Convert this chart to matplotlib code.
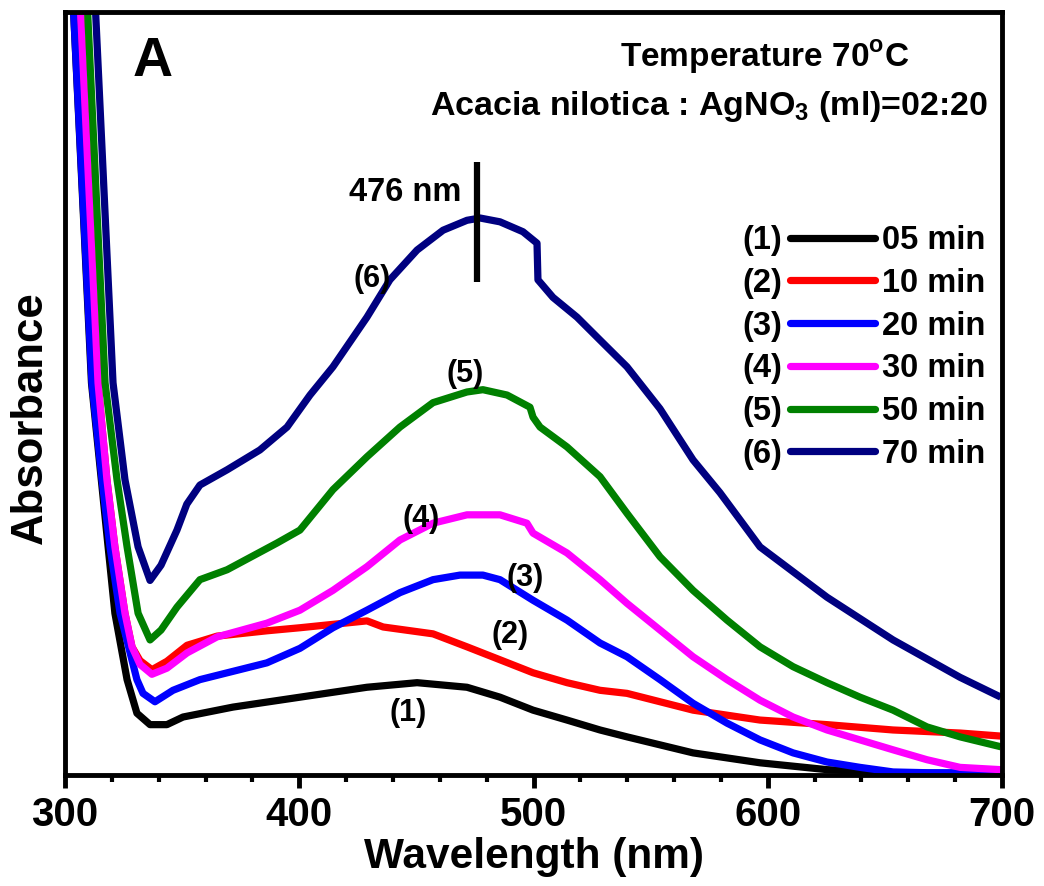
import numpy as np
import matplotlib
matplotlib.use("Agg")
import matplotlib.pyplot as plt
from matplotlib.lines import Line2D
from matplotlib.ticker import MultipleLocator

# UV-vis spectra (absorbance in arbitrary units, 0..1 = axis height)
wl1 = [303.2, 311.3, 315.5, 318.4, 321.3, 326.5, 330.7, 336.3, 343.5, 350.4, 371.7, 400.3, 428.9,
       450.3, 471.6, 485.7, 499.8, 514.3, 528.4, 539.9, 568.1, 596.7, 625.3, 653.5, 699.5]
a1 = [1.03, 0.514, 0.387, 0.299, 0.212, 0.125, 0.081, 0.066, 0.066, 0.076, 0.089, 0.102, 0.115,
      0.121, 0.115, 0.102, 0.085, 0.072, 0.059, 0.050, 0.029, 0.016, 0.007, 0.003, 0.001]

wl2 = [306.2, 314.1, 317.9, 321.3, 325.6, 328.6, 332.0, 337.1, 343.5, 352.1, 364.9, 386.2, 400.3,
       428.9, 435.8, 457.1, 471.6, 485.7, 499.8, 514.3, 528.4, 539.9, 568.1, 596.7, 625.3, 653.5,
       682.1, 699.5]
a2 = [1.03, 0.514, 0.387, 0.299, 0.212, 0.168, 0.150, 0.138, 0.149, 0.170, 0.182, 0.189, 0.193,
      0.202, 0.194, 0.185, 0.168, 0.151, 0.134, 0.121, 0.111, 0.107, 0.085, 0.072, 0.066, 0.059,
      0.055, 0.051]

wl3 = [303.2, 311.5, 315.8, 319.2, 323.5, 330.7, 333.3, 338.4, 346.1, 357.6, 386.2, 400.3, 414.4,
       428.9, 443.0, 457.1, 468.6, 478.4, 485.7, 499.8, 514.3, 528.4, 539.9, 554.0, 568.1, 582.6,
       596.7, 610.8, 625.3, 639.4, 653.5, 668.0, 699.5]
a3 = [1.03, 0.514, 0.387, 0.299, 0.212, 0.125, 0.107, 0.096, 0.111, 0.125, 0.147, 0.166, 0.193,
      0.216, 0.239, 0.256, 0.262, 0.262, 0.256, 0.229, 0.203, 0.173, 0.155, 0.125, 0.094, 0.068,
      0.046, 0.029, 0.017, 0.010, 0.004, 0.003, 0.003]

wl4 = [306.2, 314.1, 317.9, 321.3, 325.6, 328.6, 332.0, 337.1, 343.5, 352.1, 364.9, 386.2, 400.3,
       414.4, 428.9, 443.0, 457.1, 471.6, 485.7, 497.2, 499.8, 514.3, 528.4, 539.9, 554.0, 568.1,
       582.6, 596.7, 610.8, 625.3, 639.4, 653.5, 668.0, 682.1, 699.5]
a4 = [1.03, 0.514, 0.387, 0.299, 0.212, 0.168, 0.145, 0.132, 0.140, 0.160, 0.181, 0.199, 0.216,
      0.242, 0.273, 0.308, 0.330, 0.341, 0.341, 0.330, 0.317, 0.291, 0.256, 0.225, 0.190, 0.155,
      0.125, 0.098, 0.076, 0.059, 0.046, 0.033, 0.020, 0.010, 0.007]

wl5 = [309.2, 317.1, 322.2, 326.5, 331.2, 336.3, 341.0, 347.8, 357.6, 369.2, 390.5, 400.3, 414.4,
       428.9, 443.0, 457.1, 471.6, 478.4, 488.7, 498.5, 499.8, 502.8, 514.3, 528.4, 539.9, 554.0,
       568.1, 582.6, 596.7, 610.8, 625.3, 639.4, 653.5, 668.0, 682.1, 699.5]
a5 = [1.03, 0.514, 0.387, 0.299, 0.212, 0.177, 0.190, 0.220, 0.256, 0.269, 0.304, 0.321, 0.374,
      0.417, 0.456, 0.488, 0.502, 0.505, 0.498, 0.482, 0.469, 0.456, 0.430, 0.391, 0.343, 0.286,
      0.242, 0.203, 0.168, 0.142, 0.121, 0.102, 0.085, 0.063, 0.050, 0.037]

wl6 = [312.6, 320.5, 325.6, 331.2, 336.3, 341.0, 347.8, 352.0, 357.6, 369.2, 383.2, 394.8, 404.6,
       414.4, 428.9, 438.7, 450.3, 461.4, 471.6, 477.2, 485.7, 495.5, 501.5, 501.9, 508.3, 518.6,
       528.4, 539.9, 554.0, 568.1, 579.6, 596.7, 625.3, 653.5, 682.1, 699.5]
a6 = [1.03, 0.514, 0.387, 0.299, 0.255, 0.275, 0.321, 0.355, 0.380, 0.400, 0.426, 0.456, 0.498,
      0.535, 0.600, 0.649, 0.688, 0.714, 0.727, 0.730, 0.725, 0.712, 0.697, 0.649, 0.626, 0.600,
      0.570, 0.535, 0.480, 0.413, 0.370, 0.299, 0.233, 0.177, 0.128, 0.102]

times = ["05 min", "10 min", "20 min", "30 min", "50 min", "70 min"]
tags = ["(1)", "(2)", "(3)", "(4)", "(5)", "(6)"]
colors = ["#000000", "#ff0000", "#0000ff", "#ff00ff", "#008000", "#000080"]
# where the (n) tags sit next to each curve
tag_x = [446.4, 490.0, 496.4, 452.0, 470.8, 431.1]
tag_y = [0.081, 0.183, 0.258, 0.336, 0.526, 0.650]

peak_nm = 476
peak_bar = (0.646, 0.803)

plt.rcParams['font.family'] = ['Liberation Sans', 'DejaVu Sans']
plt.rcParams['font.weight'] = 'bold'
plt.rcParams['mathtext.fontset'] = 'custom'
plt.rcParams['mathtext.rm'] = 'Liberation Sans:bold'
plt.rcParams['mathtext.bf'] = 'Liberation Sans:bold'

fig = plt.figure(figsize=(10.44, 8.86), dpi=100)
ax = fig.add_axes([65 / 1044, 1 - 775 / 886, 937 / 1044, 763 / 886])

series = [(wl1, a1), (wl2, a2), (wl3, a3), (wl4, a4), (wl5, a5), (wl6, a6)]
for (x, y), c in zip(series, colors):
    ax.plot(x, y, color=c, lw=5.2, solid_joinstyle='round', solid_capstyle='butt')

for t, x, y in zip(tags, tag_x, tag_y):
    ax.text(x, y, t, fontsize=22, fontweight='bold', ha='center', va='center')

ax.vlines(peak_nm, peak_bar[0], peak_bar[1], color='black', lw=4.5)
ax.text(445.1, 0.764, "476 nm", fontsize=23.5, fontweight='bold', ha='center', va='center')

ax.text(0.094, 0.934, "A", transform=ax.transAxes, fontsize=40, fontweight='bold',
        ha='center', va='center')
ax.text(0.747, 0.941, "Temperature 70$^\\mathbf{o}$C", transform=ax.transAxes, fontsize=24,
        fontweight='bold', ha='center', va='center')
ax.text(0.688, 0.876, "Acacia nilotica : AgNO$_\\mathbf{3}$ (ml)=02:20", transform=ax.transAxes,
        fontsize=24.5, fontweight='bold', ha='center', va='center')

ax.set_xlim(300, 700)
ax.set_ylim(0, 1)
ax.xaxis.set_major_locator(MultipleLocator(100))
ax.xaxis.set_minor_locator(MultipleLocator(20))
ax.tick_params(axis='x', which='major', direction='out', length=9, width=3.5, labelsize=29, pad=6)
ax.tick_params(axis='x', which='minor', direction='out', length=5, width=3)
ax.tick_params(axis='y', left=False, labelleft=False)
for lab in ax.get_xticklabels():
    lab.set_fontweight('bold')
for s in ax.spines.values():
    s.set_linewidth(3.5)

ax.set_xlabel("Wavelength (nm)", fontsize=30.5, fontweight='bold', labelpad=2)
ax.set_ylabel("Absorbance", fontsize=31.5, fontweight='bold')
ax.yaxis.set_label_coords(-0.015, 0.468)

# legend: lines with times, plus the (n) tags to their left
handles = [Line2D([], [], color=c, lw=5.2, solid_capstyle='round') for c in colors]
leg = ax.legend(handles, times, loc='upper left', bbox_to_anchor=(0.7737, 0.7208),
                frameon=False, fontsize=23.5, borderpad=0, borderaxespad=0,
                handlelength=2.6, handletextpad=0.22, labelspacing=0.36)
ax.add_artist(leg)
blank = [Line2D([], [], linestyle='none') for _ in tags]
ax.legend(blank, tags, loc='upper right', bbox_to_anchor=(0.7652, 0.7208),
          frameon=False, fontsize=23.5, borderpad=0, borderaxespad=0,
          handlelength=0, handletextpad=0, labelspacing=0.36)

fig.savefig("out.png", dpi=100)
